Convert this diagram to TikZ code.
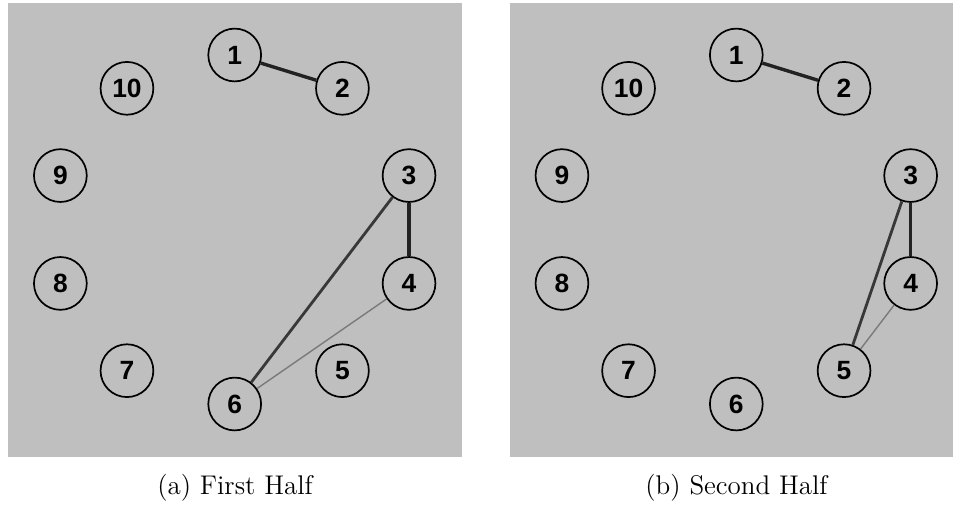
\documentclass[tikz,border=0pt]{standalone}
\usepackage{fontspec}
\newfontfamily\nodefont{Liberation Sans}
\definecolor{panelgray}{HTML}{BFBFBF}
\definecolor{edgedark}{HTML}{222222}
\definecolor{edgemid}{HTML}{383838}
\definecolor{edgelight}{HTML}{7A7A7A}
\begin{document}
\begin{tikzpicture}[x=0.5pt,y=-0.5pt,
  vtx/.style={circle,draw=black,line width=0.85pt,minimum size=26.4pt,inner sep=0pt,
    font=\nodefont\bfseries\fontsize{13.2}{15}\selectfont},
  thickedge/.style={draw=edgedark,line width=1.7pt},
  midedge/.style={draw=edgemid,line width=1.4pt},
  thinedge/.style={draw=edgelight,line width=0.7pt},
  captext/.style={anchor=base,font=\fontsize{13.5}{16}\selectfont}]
\useasboundingbox (0,0) rectangle (953,504);
\fill[panelgray] (8,2.7) rectangle (462,456.7);
\fill[panelgray] (509.7,2.7) rectangle (953,456.7);
\foreach \i in {1,...,10}{
  \pgfmathsetmacro{\ang}{90-36*(\i-1)}
  \node[vtx] (L\i) at ({234.7+183.3*cos(\ang)},{229.5-174.5*sin(\ang)}) {\i};
  \node[vtx] (R\i) at ({736.3+183.3*cos(\ang)},{229.5-174.5*sin(\ang)}) {\i};
}
\draw[thickedge] (L1) -- (L2);
\draw[thickedge] (L3) -- (L4);
\draw[midedge] (L3) -- (L6);
\draw[thinedge] (L4) -- (L6);
\draw[thickedge] (R1) -- (R2);
\draw[thickedge] (R3) -- (R4);
\draw[midedge] (R3) -- (R5);
\draw[thinedge] (R4) -- (R5);
\node[captext] (capa) at (235,494) {(a) First Half};
\node[captext] (capb) at (736.5,494) {(b) Second Half};
\end{tikzpicture}
\end{document}
